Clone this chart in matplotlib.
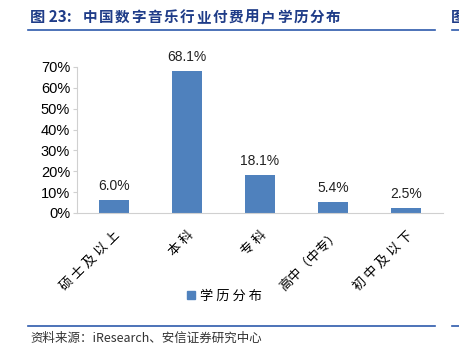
import matplotlib
matplotlib.use("Agg")
import matplotlib.pyplot as plt
from matplotlib.lines import Line2D

plt.rcParams['font.family'] = ['Noto Sans CJK SC', 'DejaVu Sans']

categories = ["硕士及以上", "本科", "专科", "高中（中专）", "初中及以下"]
values = [6.0, 68.1, 18.1, 5.4, 2.5]
series_name = "学历分布"
yticks = [0, 10, 20, 30, 40, 50, 60, 70]
title_prefix = "图 23:"
title_body = "中国数字音乐行业付费用户学历分布"
source = "资料来源：iResearch、安信证券研究中心"

W, H = 459, 354
fig = plt.figure(figsize=(W/100, H/100), dpi=100)

def fx(x): return x / W
def fy(y): return 1 - y / H

def spaced(s):
    if "（" in s:
        return s
    return " ".join(s)

ax = fig.add_axes([fx(77), fy(213), fx(443) - fx(77), fy(67) - fy(213)])
bar_color = "#4F81BD"
x = range(len(categories))
ax.bar(x, values, width=0.41, color=bar_color, zorder=2)
for xi, v in zip(x, values):
    ax.text(xi, v + 3.4, f"{v:.1f}%", ha="center", va="bottom", fontsize=10,
            family=["Liberation Sans", "DejaVu Sans"], color="#222222")

ax.set_xlim(-0.5, len(categories) - 0.5)
ax.set_ylim(0, 70)
ax.set_yticks(yticks)
ax.set_yticklabels([f"{t}%" for t in yticks], family=["Liberation Sans", "DejaVu Sans"], fontsize=10.5)
ax.set_xticks(list(x))
ax.set_xticklabels([spaced(c) for c in categories], rotation=45, ha="right", va="top",
                   rotation_mode="anchor", fontsize=9.5)
ax.tick_params(axis="x", length=0, pad=11)
ax.tick_params(axis="y", length=3, color="#d0d0d0", pad=2)
for s in ["top", "right"]:
    ax.spines[s].set_visible(False)
ax.spines["left"].set_color("#d0d0d0")
ax.spines["bottom"].set_color("#d0d0d0")

handle = Line2D([], [], marker="s", color=bar_color, linestyle="None", markersize=6)
fig.legend([handle], [" ".join(series_name)], loc="center", bbox_to_anchor=(fx(224), fy(296)),
           frameon=False, fontsize=9.5, handletextpad=0.3, handlelength=0.8)

title_color = "#1F3C88"
fig.text(fx(30), fy(17), title_prefix, fontsize=11, fontweight="bold",
         color=title_color, ha="left", va="center")
start, end = 90, 333
step = (end - start) / (len(title_body) - 1)
for i, ch in enumerate(title_body):
    fig.text(fx(start + i * step), fy(17), ch, fontsize=10.5, fontweight="bold",
             color=title_color, ha="center", va="center")
fig.text(fx(451), fy(17), "图", fontsize=11, fontweight="bold", color=title_color,
         ha="left", va="center", clip_on=True)
line_color = "#2E5AAC"
fig.add_artist(Line2D([fx(28), fx(435)], [fy(30), fy(30)], color=line_color, lw=1.2))
fig.add_artist(Line2D([fx(452), fx(459)], [fy(30), fy(30)], color=line_color, lw=1.2))
fig.add_artist(Line2D([fx(28), fx(435)], [fy(326), fy(326)], color=line_color, lw=1.2))
fig.add_artist(Line2D([fx(452), fx(459)], [fy(326), fy(326)], color=line_color, lw=1.2))
fig.text(fx(30), fy(338), source, fontsize=9, style="italic",
         color="#333333", ha="left", va="center")

fig.savefig("out.png", dpi=100)
